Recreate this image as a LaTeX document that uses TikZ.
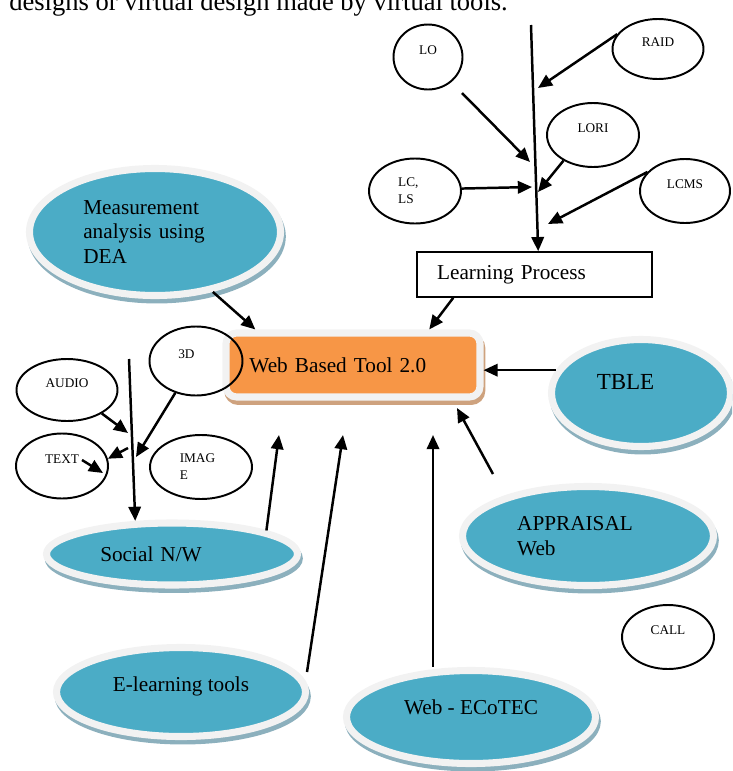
\documentclass[tikz,border=0pt]{standalone}
\usepackage{fontspec}
\setmainfont{Liberation Serif}
\usepackage{tikz}
\usetikzlibrary{positioning}
\usetikzlibrary{arrows.meta}
\usetikzlibrary{shapes.geometric}
\definecolor{tealfill}{RGB}{75,172,198}
\definecolor{rimgray}{RGB}{242,242,242}
\definecolor{tealshade}{RGB}{140,176,189}
\definecolor{toolorange}{RGB}{247,150,70}
\definecolor{toolshade}{RGB}{206,162,126}

\begin{document}
\begin{tikzpicture}[
      x=0.565pt, y=-0.565pt, % 1 单位 = 参考图 1 像素
      wh/.style 2 args={minimum width=#1*0.565pt, minimum height=#2*0.565pt},
      arr/.style={-{Triangle[length=8pt,width=7pt]}, line width=1.4pt},
      smallell/.style={ellipse, draw, line width=1.1pt, inner sep=0pt,
          font=\fontsize{7.5}{9.5}\selectfont},
      uplab/.style={text height=5.5pt, text depth=8.5pt}, % 标签略高于中心
      tealell/.style={ellipse, fill=tealfill, draw=rimgray, line width=4pt,
          inner sep=0pt, font=\fontsize{12}{14}\selectfont,
          preaction={fill=tealshade, draw=tealshade, line width=4pt,
              transform canvas={shift={(1pt,-2.5pt)}}}},
      toolbox/.style={rounded corners=6pt, fill=toolorange, draw=rimgray, line width=4pt,
          preaction={fill=toolshade, draw=toolshade, line width=4pt,
              transform canvas={shift={(1pt,-2.5pt)}}}}
  ]
    \useasboundingbox (0,0) rectangle (732,771);
    \clip (0,0) rectangle (732,771);
    % 页面上方被截断的正文
    \node[anchor=base west, inner sep=0pt, font=\fontsize{15}{18}\selectfont] (intro) at (9,10)
        {designs or virtual design made by virtual tools.};
    % 右上角的学习资源和学习过程
    \node[smallell, uplab, wh={69}{65}] (lo) at (428,57) {LO};
    \node[smallell, uplab, wh={91}{60}] (raid) at (658,49) {RAID};
    \node[smallell, uplab, wh={92}{64}] (lori) at (593,135) {LORI};
    \node[smallell, align=left, text width=19pt, wh={92}{65}] (lcls) at (415,191) {LC,\\LS};
    \node[smallell, uplab, wh={90}{64}] (lcms) at (685,191) {LCMS};
    \node[draw, line width=0.9pt, font=\fontsize{12}{14}\selectfont, text width=110pt,
          align=left, inner xsep=0pt, wh={235}{45}] (learn) at (534.5,274.5) {Learning Process};
    % 中间的工具
    \node[toolbox, font=\fontsize{12}{14}\selectfont, text width=117pt, align=left,
          inner xsep=0pt, wh={254}{64}] (webtool) at (353,365) {Web Based Tool 2.0};
    % 周围的蓝色椭圆
    \node[tealell, text width=81pt, align=left, wh={251}{127}] (meas) at (155,232)
        {Measurement\\analysis using\\DEA};
    \node[tealell, font=\fontsize{13}{15}\selectfont, text width=50pt, align=left,
          text height=9.5pt, text depth=13.3pt, wh={179}{107}] (tble) at (641,393) {TBLE};
    \node[tealell, text width=81pt, align=left, wh={251}{62}] (social) at (172,554) {Social N/W};
    \node[tealell, text width=80pt, align=left, wh={251}{99}] (appraisal) at (588,536)
        {APPRAISAL\\Web};
    \node[tealell, text height=9pt, text depth=10pt, wh={249}{89}] (elearn) at (181,692)
        {E-learning tools};
    \node[tealell, text height=9pt, text depth=12.2pt, wh={249}{93}] (ecotec) at (471,717)
        {Web - ECoTEC};
    % 左侧的媒体类型
    \node[smallell, uplab, text width=20pt, align=left, wh={93}{69}] (threed) at (196,361) {3D};
    \node[smallell, uplab, wh={101}{62}] (audio) at (67,390) {AUDIO};
    \node[smallell, uplab, wh={92}{65}] (txt) at (62,466) {TEXT};
    \node[smallell, align=left, text width=24pt, wh={102}{64}] (image) at (201,467) {IMAG\\E};
    \node[smallell, uplab, wh={92}{64}] (call) at (668,637) {CALL};
    % 箭头的自由端
    \coordinate (lp-top) at (531,25);
    \coordinate (raid-tip) at (538,88);
    \coordinate (lo-from) at (462,93);
    \coordinate (lo-tip) at (530,162);
    \coordinate (lori-tip) at (538,192);
    \coordinate (lcls-tip) at (532,187);
    \coordinate (lcms-tip) at (548,224);
    \coordinate (snw-top) at (129,359);
    \coordinate (audio-tip) at (128,433);
    \coordinate (threed-tip) at (136,457);
    \coordinate (txt-from) at (128,448);
    \coordinate (txt-a) at (82,460);
    \coordinate (txt-b) at (103,473);
    \coordinate (social-tip) at (279,435);
    \coordinate (elearn-from) at (307,672);
    \coordinate (elearn-tip) at (343,435);
    \coordinate (eco-tip) at (433,435);
    \coordinate (appr-from) at (493,474);
    \coordinate (appr-tip) at (457,408);
    % 学习过程的输入
    \draw[arr] (lp-top) -- (learn.81);
    \draw[arr] (raid.160) -- (raid-tip);
    \draw[arr] (lo-from) -- (lo-tip);
    \draw[arr] (lori.221) -- (lori-tip);
    \draw[arr] (lcls.3) -- (lcls-tip);
    \draw[arr] (lcms.153) -- (lcms-tip);
    % 指向工具的箭头
    \draw[arr] (learn.-164) -- (webtool.25);
    \draw[arr] (meas.-46) -- (webtool.160);
    \draw[arr] (tble.165) -- (tble.165 -| webtool.east);
    \draw[arr] (social.14) -- (social-tip);
    \draw[arr] (elearn-from) -- (elearn-tip);
    \draw[arr] (ecotec.north -| eco-tip) -- (eco-tip);
    \draw[arr] (appr-from) -- (appr-tip);
    % 左侧媒体到社交网络
    \draw[arr] (snw-top) -- (social.138);
    \draw[arr] (audio.-34) -- (audio-tip);
    \draw[arr] (threed.-123) -- (threed-tip);
    \draw[arr] (txt-from) -- (txt.9);
    \draw[arr] (txt-a) -- (txt-b);
\end{tikzpicture}
\end{document}
